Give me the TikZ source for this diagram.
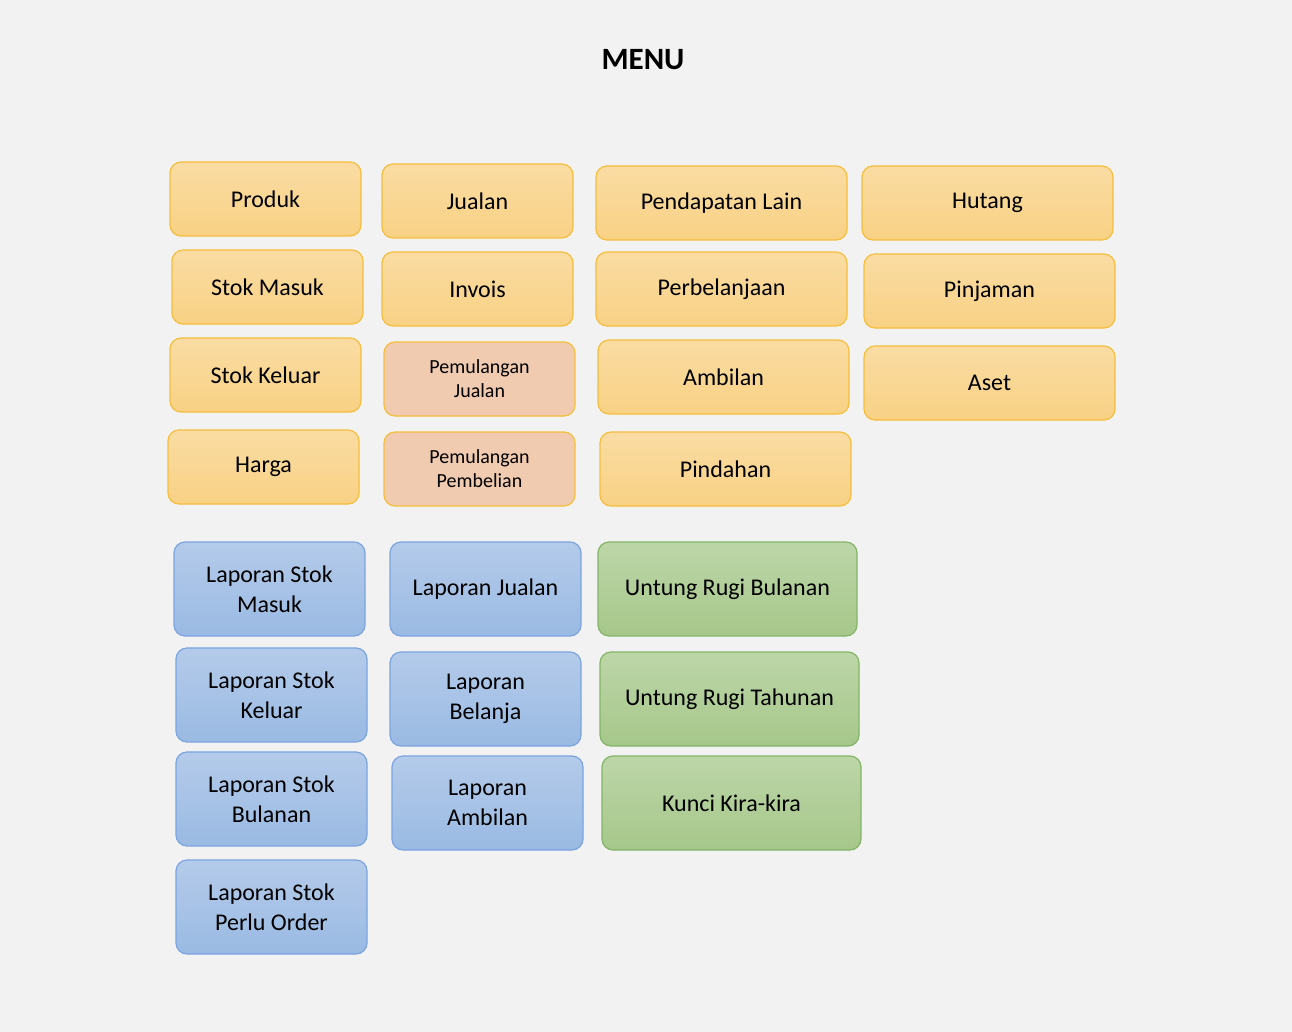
\documentclass[tikz,border=0pt]{standalone}
\usepackage{fontspec}
\setmainfont{Carlito}
\definecolor{bg}{HTML}{F2F2F2}
\definecolor{ytop}{HTML}{FADCA3}
\definecolor{ybot}{HTML}{F8D184}
\definecolor{yline}{HTML}{F4BE3E}
\definecolor{peach}{HTML}{F1CBB0}
\definecolor{btop}{HTML}{B4CBEA}
\definecolor{bbot}{HTML}{9ABAE3}
\definecolor{bline}{HTML}{7BA4DF}
\definecolor{gtop}{HTML}{BDD6A8}
\definecolor{gbot}{HTML}{A6C78A}
\definecolor{gline}{HTML}{84B468}
\tikzset{
  box/.style={rectangle, rounded corners=11pt, line width=1.2pt, inner sep=0pt,
    align=center, font=\fontsize{24}{30}\selectfont},
  ybox/.style={box, draw=yline, top color=ytop, bottom color=ybot, minimum width=191pt, minimum height=74pt},
  ywide/.style={ybox, minimum width=251pt},
  pbox/.style={box, draw=yline, fill=peach, minimum width=191pt, minimum height=74pt,
    font=\fontsize{20}{24}\selectfont},
  bbox/.style={box, draw=bline, top color=btop, bottom color=bbot, minimum width=191pt, minimum height=94pt},
  gbox/.style={box, draw=gline, top color=gtop, bottom color=gbot, minimum width=259pt, minimum height=94pt},
}
\begin{document}
\begin{tikzpicture}[x=1pt,y=-1pt]
\fill[bg] (0,0) rectangle (1292,1032);
\useasboundingbox (0,0) rectangle (1292,1032);
\node[font=\fontsize{31}{36}\selectfont\bfseries] (title) at (643,60) {MENU};
% column 1
\node[ybox] (produk) at (265.5,199) {Produk};
\node[ybox] (stokmasuk) at (267.5,287) {Stok Masuk};
\node[ybox] (stokkeluar) at (265.5,375) {Stok Keluar};
\node[ybox] (harga) at (263.5,467) {Harga};
% column 2
\node[ybox] (jualan) at (477.5,201) {Jualan};
\node[ybox] (invois) at (477.5,289) {Invois};
\node[pbox] (pjualan) at (479.5,379) {Pemulangan\\Jualan};
\node[pbox] (ppembelian) at (479.5,469) {Pemulangan\\Pembelian};
% column 3
\node[ywide] (pendapatan) at (721.5,203) {Pendapatan Lain};
\node[ywide] (perbelanjaan) at (721.5,289) {Perbelanjaan};
\node[ywide] (ambilan) at (723.5,377) {Ambilan};
\node[ywide] (pindahan) at (725.5,469) {Pindahan};
% column 4
\node[ywide] (hutang) at (987.5,203) {Hutang};
\node[ywide] (pinjaman) at (989.5,291) {Pinjaman};
\node[ywide] (aset) at (989.5,383) {Aset};
% blue column 1
\node[bbox] (lsm) at (269.5,589) {Laporan Stok\\Masuk};
\node[bbox] (lsk) at (271.5,695) {Laporan Stok\\Keluar};
\node[bbox] (lsb) at (271.5,799) {Laporan Stok\\Bulanan};
\node[bbox] (lspo) at (271.5,907) {Laporan Stok\\Perlu Order};
% blue column 2
\node[bbox] (lj) at (485.5,589) {Laporan Jualan};
\node[bbox] (lb) at (485.5,699) {Laporan\\Belanja};
\node[bbox] (la) at (487.5,803) {Laporan\\Ambilan};
% green
\node[gbox] (urb) at (727.5,589) {Untung Rugi Bulanan};
\node[gbox] (urt) at (729.5,699) {Untung Rugi Tahunan};
\node[gbox] (kkk) at (731.5,803) {Kunci Kira-kira};
\end{tikzpicture}
\end{document}
